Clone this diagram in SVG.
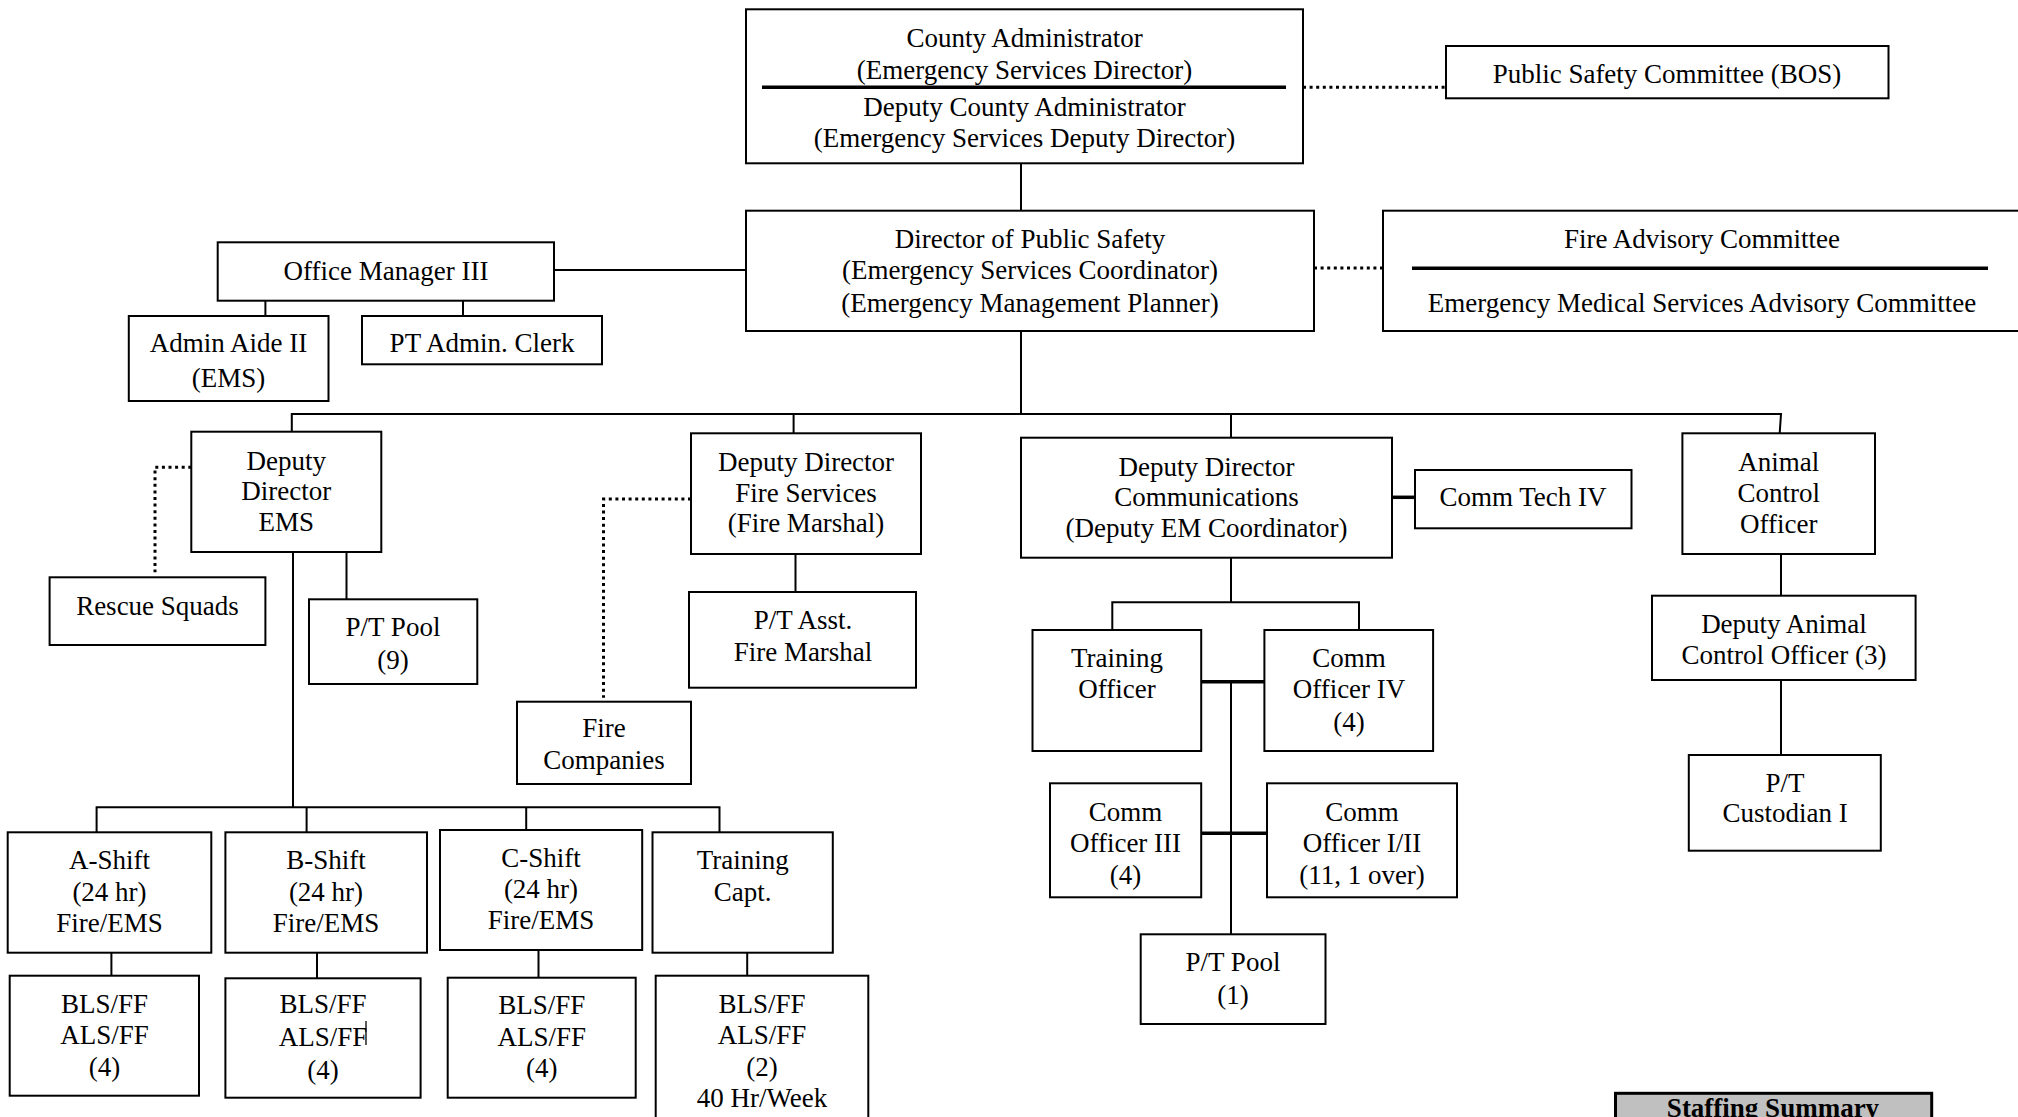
<svg xmlns="http://www.w3.org/2000/svg" width="2018" height="1117" viewBox="0 0 2018 1117">
<style>
.box{fill:#fff;stroke:#000;stroke-width:2}
.t{font-family:"Liberation Serif","Times New Roman",serif;font-size:27px;text-anchor:middle;fill:#000}
.b{font-weight:bold}
.c{stroke:#000;stroke-width:2;fill:none}
.k{stroke:#000;stroke-width:3.5;fill:none}
.d{stroke:#000;stroke-width:3;fill:none;stroke-dasharray:3 3.6}
</style>
<rect width="2018" height="1117" fill="#fff"/>
<g id="connectors">
<line class="c" x1="1021" y1="163" x2="1021" y2="211"/>
<line class="c" x1="554" y1="270" x2="746" y2="270"/>
<line class="c" x1="265.4" y1="300.7" x2="265.4" y2="316"/>
<line class="c" x1="463" y1="300.7" x2="463" y2="316"/>
<line class="c" x1="1021" y1="331" x2="1021" y2="414"/>
<polyline class="c" points="291.8,431.7 291.8,414 1781,414 1779.7,433.3"/>
<line class="c" x1="793.6" y1="414" x2="793.6" y2="433.3"/>
<line class="c" x1="1231" y1="414" x2="1231" y2="437.7"/>
<line class="c" x1="293" y1="552" x2="293" y2="807.3"/>
<line class="c" x1="346.5" y1="552" x2="346.5" y2="599.3"/>
<line class="c" x1="795.5" y1="554" x2="795.5" y2="592"/>
<polyline class="c" points="96.6,832.3 96.6,807.3 719.5,807.3 719.5,832.3"/>
<line class="c" x1="306.6" y1="807.3" x2="306.6" y2="832.3"/>
<line class="c" x1="526.2" y1="807.3" x2="526.2" y2="830"/>
<line class="c" x1="111.4" y1="952.7" x2="111.4" y2="975.7"/>
<line class="c" x1="317" y1="952.7" x2="317" y2="978.3"/>
<line class="c" x1="538.5" y1="950" x2="538.5" y2="977.7"/>
<line class="c" x1="747.2" y1="952.7" x2="747.2" y2="975.7"/>
<line class="k" x1="1392" y1="497.3" x2="1415" y2="497.3"/>
<line class="c" x1="1231" y1="557.7" x2="1231" y2="602.3"/>
<polyline class="c" points="1112.3,630 1112.3,602.3 1359,602.3 1359,630"/>
<line class="k" x1="1201.2" y1="681.7" x2="1264.4" y2="681.7"/>
<line class="c" x1="1231" y1="681.7" x2="1231" y2="934.3"/>
<line class="k" x1="1201.2" y1="833.3" x2="1267" y2="833.3"/>
<line class="c" x1="1781" y1="554" x2="1781" y2="595.7"/>
<line class="c" x1="1781" y1="680" x2="1781" y2="755"/>
<line class="d" x1="1303" y1="87.3" x2="1446" y2="87.3"/>
<line class="d" x1="1314" y1="268" x2="1383" y2="268"/>
<polyline class="d" points="191.3,467.3 155,467.3 155,572.3"/>
<polyline class="d" points="691,499 603.5,499 603.5,697.7"/>
</g>
<g id="county-admin">
<rect class="box" x="746" y="9.3" width="557" height="154"/>
<line class="k" x1="762" y1="87.3" x2="1286" y2="87.3"/>
<text class="t" x="1024.5" y="47">County Administrator</text>
<text class="t" x="1024.5" y="79">(Emergency Services Director)</text>
<text class="t" x="1024.5" y="116">Deputy County Administrator</text>
<text class="t" x="1024.5" y="147">(Emergency Services Deputy Director)</text>
</g>
<g id="public-safety-committee">
<rect class="box" x="1446" y="46" width="442.5" height="52.3"/>
<text class="t" x="1667" y="83">Public Safety Committee (BOS)</text>
</g>
<g id="director-public-safety">
<rect class="box" x="746" y="210.7" width="568" height="120.3"/>
<text class="t" x="1030" y="248">Director of Public Safety</text>
<text class="t" x="1030" y="279">(Emergency Services Coordinator)</text>
<text class="t" x="1030" y="312">(Emergency Management Planner)</text>
</g>
<g id="advisory-committees">
<rect class="box" x="1383" y="210.7" width="660" height="120.3"/>
<line class="k" x1="1412" y1="268.3" x2="1988" y2="268.3"/>
<text class="t" x="1702" y="248">Fire Advisory Committee</text>
<text class="t" x="1702" y="312">Emergency Medical Services Advisory Committee</text>
</g>
<g id="office-manager">
<rect class="box" x="217.7" y="242.3" width="336.3" height="58.4"/>
<text class="t" x="386" y="280">Office Manager III</text>
</g>
<g id="admin-aide">
<rect class="box" x="128.8" y="316" width="199.7" height="85"/>
<text class="t" x="228.6" y="352">Admin Aide II</text>
<text class="t" x="228.6" y="387">(EMS)</text>
</g>
<g id="pt-admin-clerk">
<rect class="box" x="362" y="316" width="240" height="48.3"/>
<text class="t" x="482" y="352">PT Admin. Clerk</text>
</g>
<g id="deputy-director-ems">
<rect class="box" x="191.3" y="431.7" width="190" height="120.3"/>
<text class="t" x="286.3" y="470">Deputy</text>
<text class="t" x="286.3" y="500">Director</text>
<text class="t" x="286.3" y="531">EMS</text>
</g>
<g id="rescue-squads">
<rect class="box" x="49.6" y="577.3" width="215.8" height="67.7"/>
<text class="t" x="157.5" y="615">Rescue Squads</text>
</g>
<g id="pt-pool-9">
<rect class="box" x="309" y="599.3" width="168.3" height="84.7"/>
<text class="t" x="393" y="636">P/T Pool</text>
<text class="t" x="393" y="669">(9)</text>
</g>
<g id="deputy-director-fire">
<rect class="box" x="691" y="433.3" width="230" height="120.7"/>
<text class="t" x="806" y="471">Deputy Director</text>
<text class="t" x="806" y="502">Fire Services</text>
<text class="t" x="806" y="532">(Fire Marshal)</text>
</g>
<g id="pt-asst-fire-marshal">
<rect class="box" x="689" y="592" width="227" height="95.7"/>
<text class="t" x="803" y="629">P/T Asst.</text>
<text class="t" x="803" y="661">Fire Marshal</text>
</g>
<g id="fire-companies">
<rect class="box" x="517" y="701.7" width="174" height="82.3"/>
<text class="t" x="604" y="737">Fire</text>
<text class="t" x="604" y="769">Companies</text>
</g>
<g id="a-shift">
<rect class="box" x="7.7" y="832.3" width="203.6" height="120.4"/>
<text class="t" x="109.5" y="869">A-Shift</text>
<text class="t" x="109.5" y="901">(24 hr)</text>
<text class="t" x="109.5" y="932">Fire/EMS</text>
</g>
<g id="b-shift">
<rect class="box" x="225.4" y="832.3" width="201.6" height="120.4"/>
<text class="t" x="326" y="869">B-Shift</text>
<text class="t" x="326" y="901">(24 hr)</text>
<text class="t" x="326" y="932">Fire/EMS</text>
</g>
<g id="c-shift">
<rect class="box" x="440" y="830" width="202.2" height="120"/>
<text class="t" x="541" y="867">C-Shift</text>
<text class="t" x="541" y="898">(24 hr)</text>
<text class="t" x="541" y="929">Fire/EMS</text>
</g>
<g id="training-capt">
<rect class="box" x="652.5" y="832.3" width="180.3" height="120.4"/>
<text class="t" x="742.7" y="869">Training</text>
<text class="t" x="742.7" y="901">Capt.</text>
</g>
<g id="bls-a">
<rect class="box" x="9.7" y="975.7" width="189.3" height="120"/>
<text class="t" x="104.5" y="1013">BLS/FF</text>
<text class="t" x="104.5" y="1044">ALS/FF</text>
<text class="t" x="104.5" y="1076">(4)</text>
</g>
<g id="bls-b">
<rect class="box" x="225.4" y="978.3" width="195.2" height="119.4"/>
<text class="t" x="323" y="1013">BLS/FF</text>
<text class="t" x="323" y="1046">ALS/FF</text>
<text class="t" x="323" y="1079">(4)</text>
<line x1="366" y1="1021" x2="366" y2="1045" stroke="#000" stroke-width="1.3"/>
</g>
<g id="bls-c">
<rect class="box" x="447.7" y="977.7" width="188" height="120"/>
<text class="t" x="541.7" y="1014">BLS/FF</text>
<text class="t" x="541.7" y="1046">ALS/FF</text>
<text class="t" x="541.7" y="1077">(4)</text>
</g>
<g id="bls-training">
<rect class="box" x="655.7" y="975.7" width="212.6" height="160"/>
<text class="t" x="762" y="1013">BLS/FF</text>
<text class="t" x="762" y="1044">ALS/FF</text>
<text class="t" x="762" y="1076">(2)</text>
<text class="t" x="762" y="1107">40 Hr/Week</text>
</g>
<g id="deputy-director-comm">
<rect class="box" x="1021" y="437.7" width="371" height="120"/>
<text class="t" x="1206.5" y="476">Deputy Director</text>
<text class="t" x="1206.5" y="506">Communications</text>
<text class="t" x="1206.5" y="537">(Deputy EM Coordinator)</text>
</g>
<g id="comm-tech">
<rect class="box" x="1415" y="470" width="216.5" height="58.3"/>
<text class="t" x="1523" y="506">Comm Tech IV</text>
</g>
<g id="training-officer">
<rect class="box" x="1032.5" y="630" width="168.7" height="121"/>
<text class="t" x="1117" y="667">Training</text>
<text class="t" x="1117" y="698">Officer</text>
</g>
<g id="comm-officer-iv">
<rect class="box" x="1264.4" y="630" width="168.7" height="121"/>
<text class="t" x="1349" y="667">Comm</text>
<text class="t" x="1349" y="698">Officer IV</text>
<text class="t" x="1349" y="731">(4)</text>
</g>
<g id="comm-officer-iii">
<rect class="box" x="1050" y="783.3" width="151.2" height="114"/>
<text class="t" x="1125.5" y="821">Comm</text>
<text class="t" x="1125.5" y="852">Officer III</text>
<text class="t" x="1125.5" y="884">(4)</text>
</g>
<g id="comm-officer-i-ii">
<rect class="box" x="1267" y="783.3" width="190" height="114"/>
<text class="t" x="1362" y="821">Comm</text>
<text class="t" x="1362" y="852">Officer I/II</text>
<text class="t" x="1362" y="884">(11, 1 over)</text>
</g>
<g id="pt-pool-1">
<rect class="box" x="1140.7" y="934.3" width="184.8" height="89.7"/>
<text class="t" x="1233" y="971">P/T Pool</text>
<text class="t" x="1233" y="1004">(1)</text>
</g>
<g id="animal-control">
<rect class="box" x="1682.4" y="433.3" width="192.6" height="120.7"/>
<text class="t" x="1778.7" y="471">Animal</text>
<text class="t" x="1778.7" y="502">Control</text>
<text class="t" x="1778.7" y="533">Officer</text>
</g>
<g id="deputy-animal-control">
<rect class="box" x="1652" y="595.7" width="263.6" height="84.3"/>
<text class="t" x="1784" y="633">Deputy Animal</text>
<text class="t" x="1784" y="664">Control Officer (3)</text>
</g>
<g id="pt-custodian">
<rect class="box" x="1688.8" y="755" width="192" height="95.7"/>
<text class="t" x="1785" y="792">P/T</text>
<text class="t" x="1785" y="822">Custodian I</text>
</g>
<g id="staffing-summary">
<rect x="1615.5" y="1093.3" width="316.2" height="60" fill="#c0c0c0" stroke="#000" stroke-width="3"/>
<text class="t b" x="1773" y="1117" font-size="28">Staffing Summary</text>
</g>
</svg>
